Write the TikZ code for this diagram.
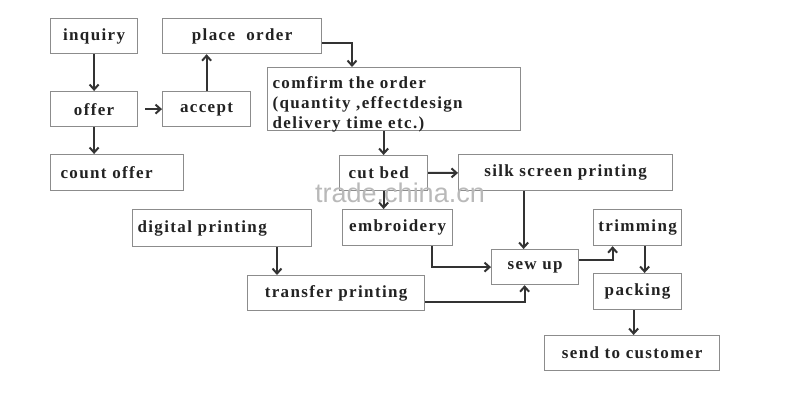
\documentclass[tikz,border=0pt]{standalone}
\usepackage{fontspec}
\setmainfont{Liberation Serif}[LetterSpace=8]
\newfontfamily\marksans{Liberation Sans}
\usetikzlibrary{arrows.meta}
\definecolor{boxgray}{HTML}{8C8C8C}
\definecolor{arrgray}{HTML}{333333}
\definecolor{txt}{HTML}{222222}

\begin{document}
\begin{tikzpicture}[x=1pt,y=-1pt,
    box/.style={draw=boxgray, line width=1.2pt, anchor=north west, minimum height=35pt, inner xsep=0pt, inner ysep=1pt, align=center, text=txt, font=\fontsize{17}{20}\selectfont\bfseries},
    arr/.style={draw=arrgray, line width=2pt, -{Straight Barb[length=5pt,width=9pt]}}]
    \useasboundingbox (0,0) rectangle (800,404);
    \node[box, minimum width=87pt] (inquiry) at (50,18) {inquiry};
    \node[box, minimum width=159pt] (place) at (162,18) {place\ \ order};
    \node[box, minimum width=87pt] (offer) at (50,91) {offer};
    \node[box, minimum width=88pt] (accept) at (162,91) {accept};
    \node[box, minimum height=63pt, text width=243pt, inner xsep=5pt, align=left, text height=20pt, text depth=41pt] (confirm) at (267,67) {comfirm the order\\(quantity ,effectdesign\\delivery time etc.)};
    \node[box, minimum height=36pt, text width=113pt, inner xsep=10pt, align=left] (count) at (50,154) {count offer};
    \node[box, minimum height=35pt, text width=70pt, inner xsep=9pt, align=left] (cut) at (339,155) {cut bed};
    \node[box, minimum height=36pt, minimum width=214pt] (silk) at (458,154) {silk screen printing};
    \node[box, minimum height=37pt, text width=169pt, inner xsep=5pt, align=left] (digital) at (132,209) {digital printing};
    \node[box, minimum height=36pt, minimum width=110pt] (embroid) at (342,209) {embroidery};
    \node[box, minimum height=36pt, minimum width=88pt] (trimming) at (593,209) {trimming};
    \node[box, minimum width=87pt] (sewup) at (491,249) {sew up};
    \node[box, minimum width=177pt] (transfer) at (247,275) {transfer printing};
    \node[box, minimum height=36pt, minimum width=88pt] (packing) at (593,273) {packing};
    \node[box, minimum width=175pt] (send) at (544,335) {send to customer};
    % connectors
    \coordinate (sewin) at ([xshift=-11.5pt]sewup.north);
    \coordinate (tpin) at ([xshift=30pt]transfer.north west);
    \coordinate (sendin) at ([xshift=-4pt]packing.south);
    \draw[arr] (inquiry) -- (offer);
    \draw[arr] (offer) -- (offer |- count.north);
    \draw[arr, shorten <=7pt] (offer) -- (accept);
    \draw[arr] (accept) -- (accept |- place.south);
    \draw[arr] ([yshift=-6.5pt]place.east) -| ([xshift=85pt]confirm.north west);
    \draw[arr] (cut.north |- confirm.south) -- (cut);
    \draw[arr] (cut) -- (silk);
    \draw[arr] (cut.south) -- (cut.south |- embroid.north);
    \draw[arr] (silk.south -| sewin) -- (sewin);
    \draw[arr] ([xshift=-21pt]embroid.south east) |- (sewup.west);
    \draw[arr] ([yshift=-8.5pt]transfer.east) -| ([xshift=-10.5pt]sewup.south);
    \draw[arr] (digital.south -| tpin) -- (tpin);
    \draw[arr] ([yshift=7.5pt]sewup.east) -| ([xshift=-25pt]trimming.south);
    \draw[arr] ([xshift=7pt]trimming.south) -- ([xshift=7pt]packing.north);
    \draw[arr] (sendin) -- (sendin |- send.north);
    \node[text=gray!55, font=\marksans\fontsize{27}{27}\selectfont] (mark) at (400,193) {trade.china.cn};
\end{tikzpicture}
\end{document}
